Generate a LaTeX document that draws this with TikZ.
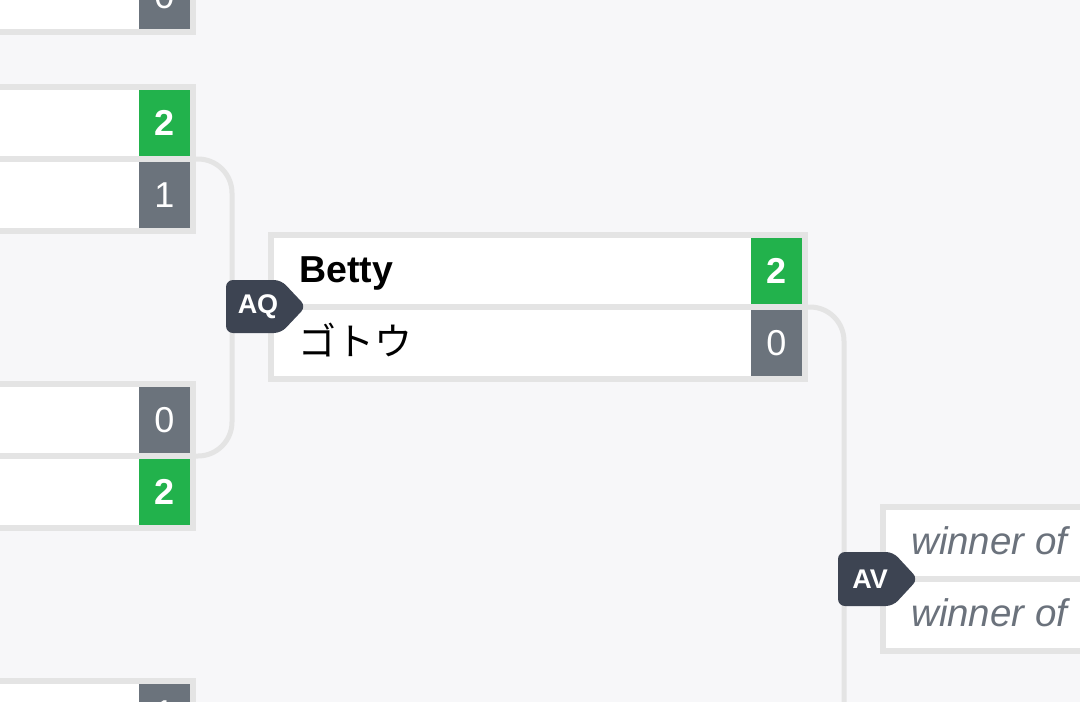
\documentclass[tikz,border=0pt]{standalone}
\usepackage{fontspec}
\setmainfont{Liberation Sans}
\newfontfamily\cjkfont{Noto Sans CJK JP}
\definecolor{bgc}{HTML}{F7F7F9}
\definecolor{bordergray}{HTML}{E4E4E4}
\definecolor{wingreen}{HTML}{22B24C}
\definecolor{losegray}{HTML}{6B737C}
\definecolor{badgec}{HTML}{3D4452}
\definecolor{pendgray}{HTML}{6B727C}
\tikzset{
  matchbox/.style={rectangle, draw=bordergray, line width=6pt, fill=white,
    minimum width=534pt, minimum height=144pt, inner sep=0pt, outer sep=0pt},
  sepline/.style={draw=bordergray, line width=6pt},
  scorebox/.style={rectangle, minimum width=51pt, minimum height=66pt,
    inner sep=0pt, outer sep=0pt, text=white, font=\fontsize{36}{38}\selectfont},
  scorewin/.style={scorebox, fill=wingreen, font=\fontsize{36}{38}\selectfont\bfseries},
  scorelose/.style={scorebox, fill=losegray},
  conn/.style={draw=bordergray, line width=5pt, rounded corners=34pt},
  badge/.style={fill=badgec, rounded corners=7pt},
  badgetext/.style={text=white, inner sep=0pt, font=\fontsize{27}{30}\selectfont\bfseries},
  player/.style={anchor=base west, inner sep=0pt, font=\fontsize{37.5}{40}\selectfont},
  pending/.style={anchor=base west, inner sep=0pt, text=pendgray,
    font=\fontsize{38.5}{40}\selectfont\itshape}
}
\begin{document}
\begin{tikzpicture}[x=1pt,y=-1pt]
\clip (0,0) rectangle (1080,702);
\fill[bgc] (0,0) rectangle (1080,702);

% junction / end coordinates
\coordinate (jq) at (232,307);
\coordinate (jv) at (844,579);
\coordinate (vend) at (844,760);

% match boxes
\node[matchbox] (m1) at (-74,-40) {};
\node[matchbox] (m2) at (-74,159) {};
\node[matchbox] (m3) at (-74,456) {};
\node[matchbox] (m4) at (-74,753) {};
\node[matchbox] (mq) at (538,307) {};
\node[matchbox] (mv) at (1150,579) {};

% connectors
\draw[conn] (m2.east) -| (jq) |- (m3.east);
\draw[conn] (mq.east) -| (jv) -- (vend);

% redraw boxes on top of connector ends, with row separators
\foreach \m in {m1,m2,m3,m4,mq,mv}{
  \draw[draw=bordergray, line width=6pt, fill=white] (\m.north west) rectangle (\m.south east);
  \draw[sepline] (\m.west) -- (\m.east);
}

% scores of the left column
\node[scorelose] (s1b) at (164.5,-4) {0};
\node[scorewin]  (s2a) at (164.5,123) {2};
\node[scorelose] (s2b) at (164.5,195) {1};
\node[scorelose] (s3a) at (164.5,420) {0};
\node[scorewin]  (s3b) at (164.5,492) {2};
\node[scorelose] (s4a) at (164.5,717) {};
\node[text=white, inner sep=0pt, font=\fontsize{36}{38}\selectfont] (s4t) at (164.5,713) {1};

% match AQ
\node[player, font=\fontsize{37.5}{40}\selectfont\bfseries] (pq1) at (299,282) {Betty};
\node[anchor=west, inner sep=0pt, font=\cjkfont\fontsize{38}{40}\selectfont] (pq2) at (298,340) {ゴトウ};
\node[scorewin]  (sqa) at (776.5,271) {2};
\node[scorelose] (sqb) at (776.5,343) {0};

% match AV
\node[pending] (pv1) at (911,554) {winner of};
\node[pending] (pv2) at (911,626) {winner of};

% badges
\path[badge] (226,280) -- (281,280) -- (306,306.5) -- (281,333) -- (226,333) -- cycle;
\node[badgetext] (AQ) at (258,306.5) {AQ};
\path[badge] (838,552) -- (893,552) -- (918,579) -- (893,606) -- (838,606) -- cycle;
\node[badgetext] (AV) at (870,579) {AV};
\end{tikzpicture}
\end{document}
